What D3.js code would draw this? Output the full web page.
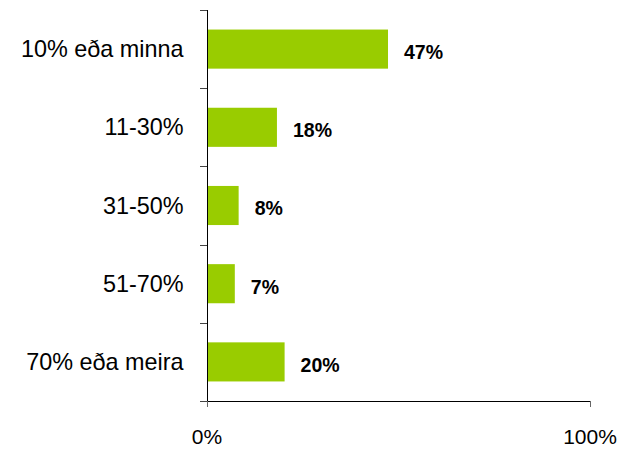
<!DOCTYPE html>
<html>
<head>
<meta charset="utf-8">
<script src="https://cdn.jsdelivr.net/npm/d3@7"></script>
<style>
  body { margin: 0; background: #fff; }
  svg text { font-family: "Liberation Sans", Arial, sans-serif; fill: #000; }
</style>
</head>
<body>
<div id="chart"></div>
<script>
// data
const categories = ['10% eða minna', '11-30%', '31-50%', '51-70%', '70% eða meira'];
const values = [47, 18, 8, 7, 20];
const xTicks = [0, 100];

const width = 628, height = 449;
const plotLeft = 207, plotRight = 590, plotTop = 10, plotBottom = 401;

let svg = d3.select('#chart').append('svg')
  .attr('width', width)
  .attr('height', height);

let x = d3.scaleLinear().domain([0, 100]).range([plotLeft, plotRight]);
let y = d3.scaleBand().domain(categories).range([plotTop, plotBottom]).paddingInner(0.5).paddingOuter(0.25);
let yEdge = d3.scaleLinear().domain([0, categories.length]).range([plotTop, plotBottom]);

// bars
svg.selectAll('rect.bar').data(values).enter()
  .append('rect')
  .attr('class', 'bar')
  .attr('x', x(0) + 1)
  .attr('y', (d, i) => y(categories[i]))
  .attr('width', d => x(d) - x(0))
  .attr('height', y.bandwidth())
  .attr('fill', '#99cc00');

// value labels (sit a little below bar centre)
svg.selectAll('text.val').data(values).enter()
  .append('text')
  .attr('class', 'val')
  .attr('x', d => x(d) + 17)
  .attr('y', (d, i) => y(categories[i]) + y.bandwidth() / 2 + 3)
  .attr('dy', '0.35em')
  .style('font-size', '19.5px')
  .style('font-weight', 'bold')
  .text(d => d + '%');

// category labels
svg.selectAll('text.cat').data(categories).enter()
  .append('text')
  .attr('class', 'cat')
  .attr('x', 183.5)
  .attr('y', d => y(d) + y.bandwidth() / 2)
  .attr('dy', '0.35em')
  .attr('text-anchor', 'end')
  .style('font-size', '23.4px')
  .text(d => d);

// y axis line + boundary ticks
svg.append('line')
  .attr('x1', plotLeft + 0.5).attr('x2', plotLeft + 0.5)
  .attr('y1', plotTop).attr('y2', plotBottom)
  .attr('stroke', '#000');
svg.selectAll('line.ytick').data(d3.range(categories.length + 1)).enter()
  .append('line')
  .attr('class', 'ytick')
  .attr('x1', 200).attr('x2', plotLeft)
  .attr('y1', d => Math.round(yEdge(d)) + 0.5)
  .attr('y2', d => Math.round(yEdge(d)) + 0.5)
  .attr('stroke', '#444');

// x axis
svg.append('line')
  .attr('x1', plotLeft).attr('x2', plotRight)
  .attr('y1', plotBottom + 0.5).attr('y2', plotBottom + 0.5)
  .attr('stroke', '#000');
svg.selectAll('line.xtick').data(xTicks).enter()
  .append('line')
  .attr('class', 'xtick')
  .attr('x1', d => x(d) + 0.5).attr('x2', d => x(d) + 0.5)
  .attr('y1', plotBottom).attr('y2', plotBottom + 6)
  .attr('stroke', '#666');
svg.selectAll('text.xlab').data(xTicks).enter()
  .append('text')
  .attr('class', 'xlab')
  .attr('x', d => x(d))
  .attr('y', 437)
  .attr('dy', '0.35em')
  .attr('text-anchor', 'middle')
  .style('font-size', '21px')
  .text(d => d + '%');
</script>
</body>
</html>
